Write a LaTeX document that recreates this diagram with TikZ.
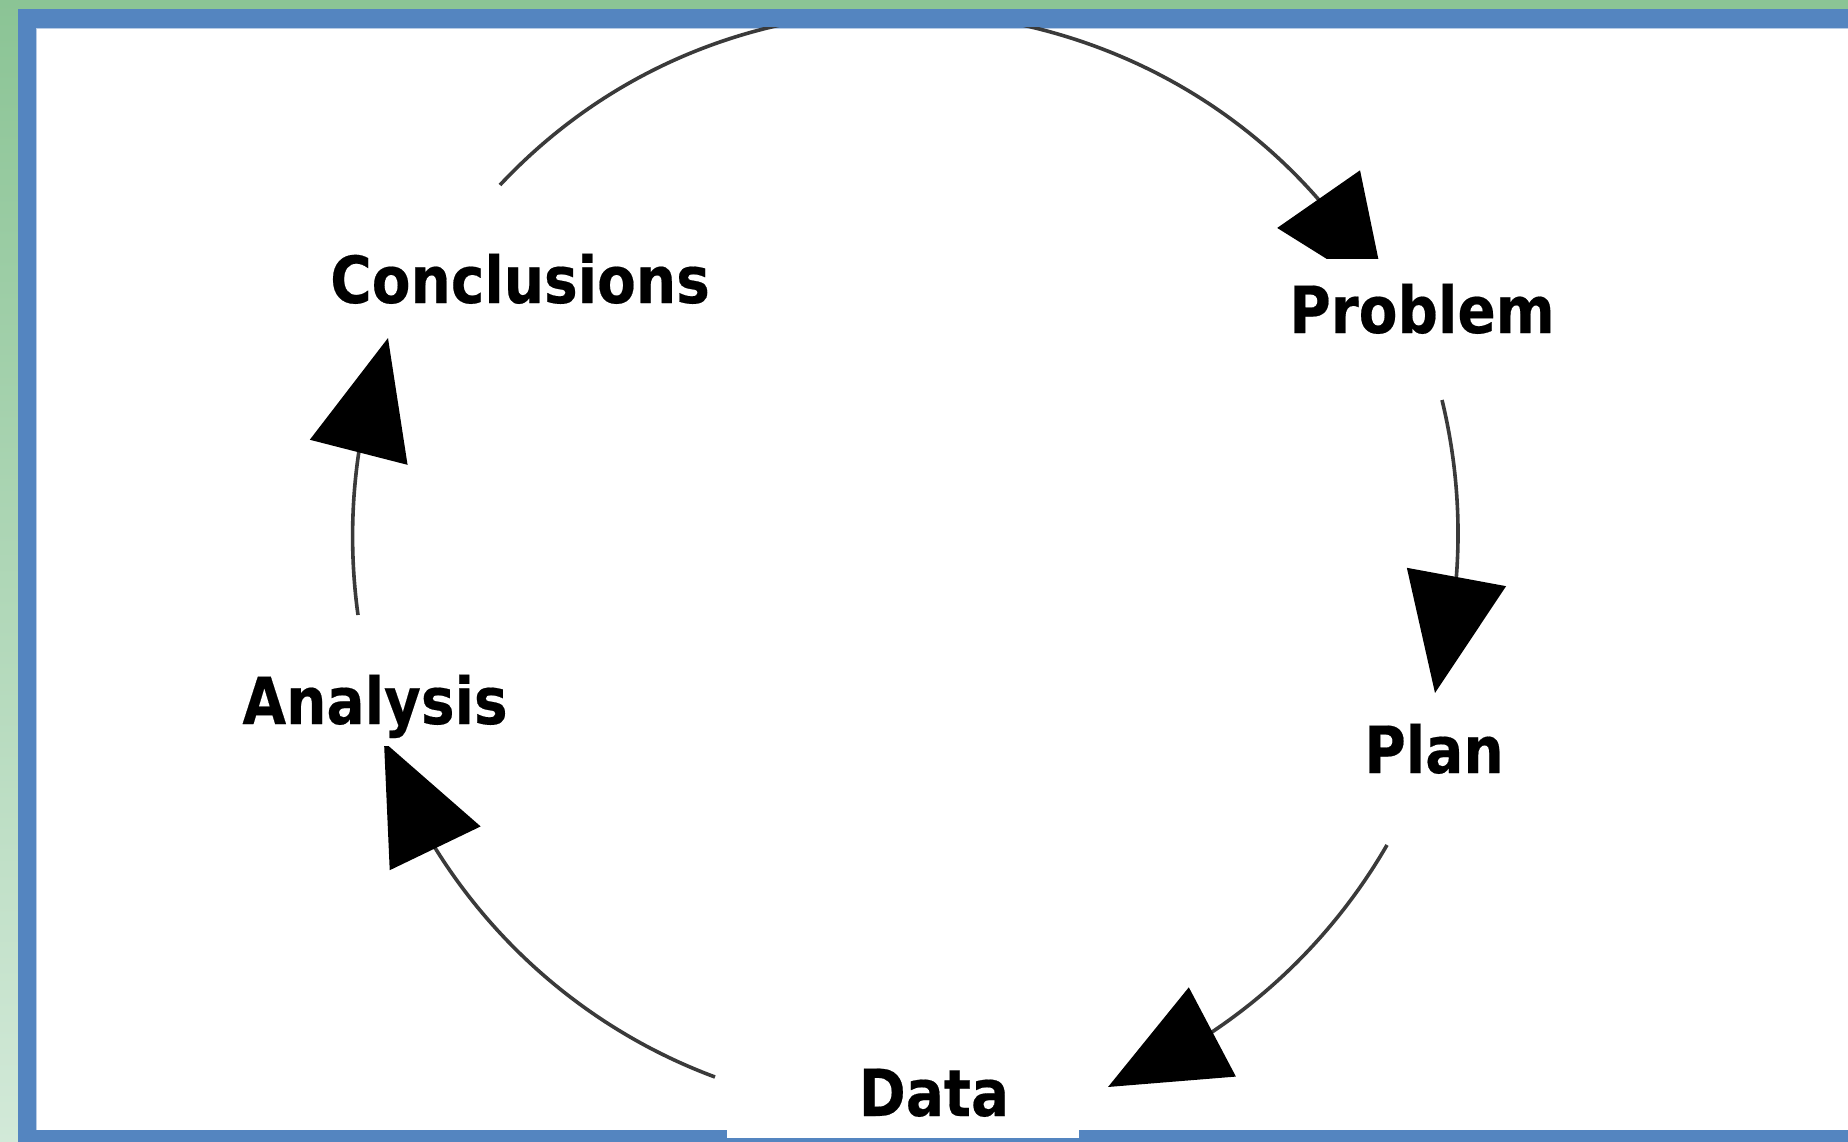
\documentclass[tikz,border=0pt]{standalone}
\usepackage{fontspec}
\newfontfamily\labfont{DejaVu Sans}[FakeStretch=0.87, BoldFeatures={FakeBold=0.3}]
\usetikzlibrary{arrows.meta,bending}
\definecolor{bggreen}{HTML}{8BC495}
\definecolor{bggreenlight}{HTML}{D2E9D8}
\definecolor{frameblue}{HTML}{5485C0}
\definecolor{frameinner}{HTML}{B8CCE6}
\definecolor{linegray}{HTML}{3A3A3A}
\begin{document}
\begin{tikzpicture}[x=1pt,y=-1pt,
  lab/.style={font={\labfont\bfseries\fontsize{65pt}{70pt}\selectfont}, fill=white, inner sep=8pt, anchor=base, text=black},
  cyc/.style={draw=linegray, line width=3.6pt, -{Triangle[length=118pt,width=100pt,color=black]}}]
\useasboundingbox (0,0) rectangle (1848,1142);
% background and frame
\shade[top color=bggreen,bottom color=bggreenlight] (0,0) rectangle (1848,1142);
\fill[frameblue] (18,9) rectangle (1848,1142);
\fill[white] (36,28) rectangle (1848,1130);
\draw[frameinner, line width=1pt] (36.5,1130) -- (36.5,28.5) -- (1848,28.5);
% cycle connectors
\begin{scope}
\clip (36,28) rectangle (1848,1130);
\coordinate (c1s) at (500,185);
\coordinate (c1e) at (1386,296);
\coordinate (c2s) at (1442,400);
\coordinate (c2e) at (1435,693);
\coordinate (c3s) at (1387,845);
\coordinate (c3e) at (1108,1087);
\coordinate (c4s) at (715,1077);
\coordinate (c4e) at (384,742);
\coordinate (c5s) at (358,615);
\coordinate (c5e) at (388,338);
\draw[cyc] (c1s) to[bend left=54, looseness=1.07] (c1e);
\draw[cyc] (c2s) to[bend left=15, looseness=0.87] (c2e);
\draw[cyc] (c3s) to[bend left=19, looseness=0.88] (c3e);
\draw[cyc] (c4s) to[bend left=25, looseness=0.89] (c4e);
\draw[cyc] (c5s) to[bend left=14, looseness=0.87] (c5e);
\end{scope}
% white patch behind Data
\fill[white] (727,1060) rectangle (1079,1138);
% labels
\node[lab] (concl) at (520,303) {Conclusions};
\node[lab, inner ysep=25pt] (problem) at (1422,333) {Problem};
\node[lab] (plan) at (1434,773) {Plan};
\node[lab] (data) at (934,1116) {Data};
\node[lab] (analysis) at (375,724) {Analysis};
\end{tikzpicture}
\end{document}
